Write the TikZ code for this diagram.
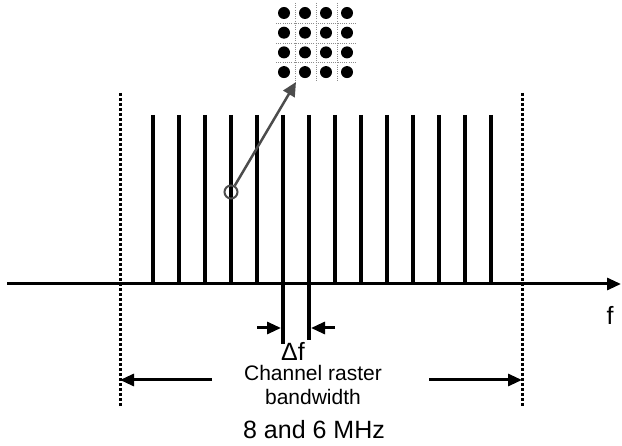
\documentclass[tikz,border=0pt]{standalone}
\usepackage{fontspec}
\setmainfont{Liberation Sans}
\usetikzlibrary{arrows.meta}

\begin{document}
\begin{tikzpicture}[x=1pt, y=-1pt,
      carrier/.style={line width=3.5pt},
      edge/.style={line width=3pt, dash pattern=on 3pt off 2pt},
      dim/.style={line width=3pt, -{Triangle[length=14pt,width=12pt]}},
      lbl/.style={font=\fontsize{21}{24}\selectfont, align=center, inner sep=0pt},
      big/.style={font=\fontsize{25}{30}\selectfont, inner sep=0pt},
      griddot/.style={black!45, line width=0.8pt, dash pattern=on 1pt off 1.2pt},
      pointer/.style={draw=black!70, line width=2.5pt},
      >={Triangle[length=14pt,width=13pt]}]
    \useasboundingbox (0,0) rectangle (622,446);
    % frequency axis
    \coordinate (axL) at (7,284);
    \coordinate (axR) at (621,284);
    \draw[dim] (axL) -- (axR);
    \node[big] (flbl) at (610,315) {f};
    % channel edges
    \coordinate (eLt) at (120,93);
    \coordinate (eLb) at (120,407);
    \coordinate (eRt) at (522,93);
    \coordinate (eRb) at (522,407);
    \draw[edge] (eLt) -- (eLb);
    \draw[edge] (eRt) -- (eRb);
    % sub-carriers
    \foreach \i in {0,...,13}
      \draw[carrier] (153+26*\i,115) coordinate (c\i) -- (153+26*\i,284) coordinate (b\i);
    \draw[carrier] (b5) -- ++(0,60) coordinate (d5);
    \draw[carrier] (b6) -- ++(0,56) coordinate (d6);
    % spacing
    \coordinate (sL) at (257,328);
    \coordinate (sR) at (335,328);
    \draw[dim] (sL) -- (sL -| 281,0);
    \draw[dim] (sR) -- (sR -| 311,0);
    \node[big] (df) at (293,351) {Δf};
    % bandwidth
    \node[lbl] (bw) at (313,385) {Channel raster\\ bandwidth};
    \node[big] (mhz) at (314,430) {8 and 6 MHz};
    \coordinate (bL) at (212,380);
    \coordinate (bR) at (429,380);
    \draw[dim] (bL) -- (bL -| eLt);
    \draw[dim] (bR) -- (bR -| eRt);
    % constellation
    \foreach \x in {295,316,337}
      \draw[griddot] (\x,3) -- (\x,82);
    \foreach \y in {23,43,62}
      \draw[griddot] (276,\y) -- (356,\y);
    \foreach \i in {0,...,3}
      \foreach \j in {0,...,3}
        \fill (284+21*\i,13+19.7*\j) circle (6pt);
    \node[circle, draw=black!70, line width=2pt, minimum size=13pt, inner sep=0pt] (probe) at (231,192) {};
    \coordinate (qam) at (296,82);
    \draw[pointer, ->, fill=black!70] (probe) -- (qam);
  \end{tikzpicture}
\end{document}
